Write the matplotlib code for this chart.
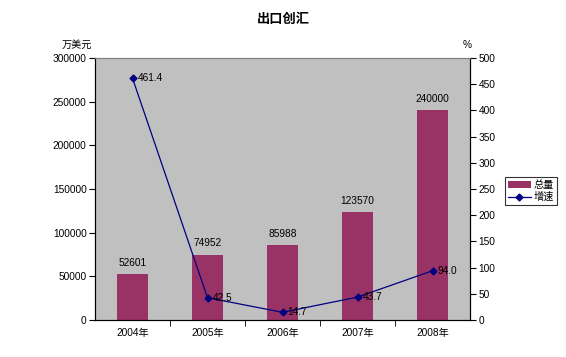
import matplotlib
matplotlib.use("Agg")
import matplotlib.pyplot as plt
import numpy as np

plt.rcParams['font.family'] = ['Liberation Sans', 'Noto Sans CJK SC', 'DejaVu Sans']

years = ["2004年", "2005年", "2006年", "2007年", "2008年"]
totals = [52601, 74952, 85988, 123570, 240000]
growth = [461.4, 42.5, 14.7, 43.7, 94.0]
growth_labels = ["461.4", "42.5", "14.7", "43.7", "94.0"]

fs = 7.3
fig = plt.figure(figsize=(5.66, 3.57), dpi=100)
ax = fig.add_axes([95/566, 1-320/357, 375/566, 262/357])
ax.set_facecolor("#C0C0C0")
x = np.arange(len(years))
ax.bar(x, totals, width=0.41, color="#993366", label="总量", zorder=2)
ax.set_xlim(-0.5, len(years)-0.5)
ax.set_ylim(0, 300000)
ax.set_yticks(np.arange(0, 300001, 50000))
ax.set_yticklabels([str(v) for v in range(0, 300001, 50000)], fontsize=fs)
ax.set_xticks(x)
ax.set_xticklabels(years, fontsize=fs)
ax.tick_params(axis='x', length=0, pad=6)
ax.set_xticks(np.arange(0.5, len(years)-0.5, 1), minor=True)
ax.tick_params(axis='x', which='minor', length=4, direction='out')
ax.tick_params(axis='y', length=4, direction='out', pad=2)
for s in ['left', 'bottom', 'right']:
    ax.spines[s].set_color('black')
ax.spines['top'].set_color('#808080')
for xi, v in zip(x, totals):
    ax.text(xi, v + 7000, str(v), ha='center', va='bottom', fontsize=fs)

ax2 = ax.twinx()
ax2.set_ylim(0, 500)
ax2.set_yticks(np.arange(0, 501, 50))
ax2.set_yticklabels([str(v) for v in range(0, 501, 50)], fontsize=fs)
ax2.tick_params(axis='y', length=4, direction='out', pad=2)
ax2.plot(x, growth, color="#000080", marker='D', markersize=3.5, linewidth=0.9, label="增速", zorder=3)
for xi, v, lab in zip(x, growth, growth_labels):
    ax2.text(xi + 0.07, v, lab, ha='left', va='center', fontsize=fs)
ax2.spines['top'].set_color('#808080')

fig.text(283/566, 1-20/357, "出口创汇", ha='center', va='center', fontsize=9.5, fontweight='bold')
fig.text(95/566 - 0.005, 1-45/357, "万美元", ha='right', va='center', fontsize=fs)
fig.text(467/566, 1-45/357, "%", ha='center', va='center', fontsize=fs)

h1, l1 = ax.get_legend_handles_labels()
h2, l2 = ax2.get_legend_handles_labels()
leg = fig.legend(h1 + h2, l1 + l2, loc='center', bbox_to_anchor=(531/566, 1-191/357),
                 fontsize=fs, frameon=True, fancybox=False, edgecolor='black',
                 handlelength=2.2, borderpad=0.3, labelspacing=0.2, handletextpad=0.3)
leg.get_frame().set_linewidth(0.8)

fig.savefig("out.png", dpi=100)
